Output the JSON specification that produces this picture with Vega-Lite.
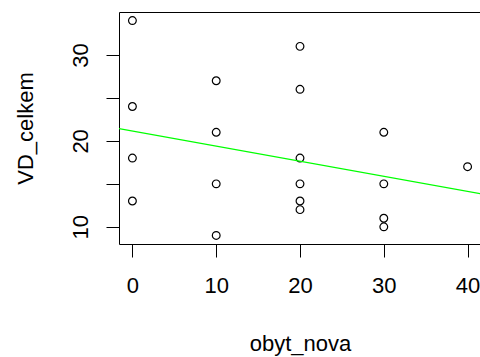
{
  "$schema": "https://vega.github.io/schema/vega-lite/v6.json",
  "autosize": {"type": "none"},
  "padding": {"left": 119, "top": 12, "right": 0, "bottom": 113},
  "width": 362,
  "height": 232,
  "background": "white",
  "config": {
    "font": "Liberation Sans",
    "view": {"stroke": "black", "strokeWidth": 1},
    "axis": {"grid": false, "domain": false, "tickColor": "black", "tickSize": 13, "tickWidth": 1,
      "labelFont": "Liberation Sans", "labelFontSize": 22, "labelColor": "black",
      "titleFont": "Liberation Sans", "titleFontSize": 22, "titleColor": "black", "titleFontWeight": "normal"}
  },
  "layer": [
    {
      "data": {"values": [
        {"obyt_nova": 0, "VD_celkem": 34}, {"obyt_nova": 0, "VD_celkem": 24}, {"obyt_nova": 0, "VD_celkem": 18}, {"obyt_nova": 0, "VD_celkem": 13},
        {"obyt_nova": 10, "VD_celkem": 27}, {"obyt_nova": 10, "VD_celkem": 21}, {"obyt_nova": 10, "VD_celkem": 15}, {"obyt_nova": 10, "VD_celkem": 9},
        {"obyt_nova": 20, "VD_celkem": 31}, {"obyt_nova": 20, "VD_celkem": 26}, {"obyt_nova": 20, "VD_celkem": 18}, {"obyt_nova": 20, "VD_celkem": 15}, {"obyt_nova": 20, "VD_celkem": 13}, {"obyt_nova": 20, "VD_celkem": 12},
        {"obyt_nova": 30, "VD_celkem": 21}, {"obyt_nova": 30, "VD_celkem": 15}, {"obyt_nova": 30, "VD_celkem": 11}, {"obyt_nova": 30, "VD_celkem": 10},
        {"obyt_nova": 40, "VD_celkem": 17}
      ]},
      "mark": {"type": "point", "shape": "circle", "filled": false, "color": "black", "size": 60, "strokeWidth": 1.2, "opacity": 1},
      "encoding": {
        "x": {"field": "obyt_nova", "type": "quantitative",
          "scale": {"domain": [-1.6, 41.6], "nice": false, "zero": false},
          "axis": {"values": [0, 10, 20, 30, 40], "title": "obyt_nova", "labelPadding": 28, "labelBaseline": "middle", "labelAlign": "center", "titleY": 99, "titleBaseline": "middle"}},
        "y": {"field": "VD_celkem", "type": "quantitative",
          "scale": {"domain": [8, 35], "nice": false, "zero": false},
          "axis": {"values": [10, 15, 20, 25, 30], "labelExpr": "datum.value % 10 == 0 ? datum.label : ''", "title": "VD_celkem",
            "labelAngle": -90, "labelAlign": "center", "labelBaseline": "middle", "labelPadding": 26,
            "titleX": -94, "titleY": 116, "titleAngle": -90, "titleAlign": "center", "titleBaseline": "middle"}}
      }
    },
    {
      "data": {"values": [
        {"obyt_nova": -1.6, "VD_celkem": 21.44},
        {"obyt_nova": 41.6, "VD_celkem": 13.85}
      ]},
      "mark": {"type": "line", "color": "#00ff00", "strokeWidth": 1.2, "clip": true},
      "encoding": {
        "x": {"field": "obyt_nova", "type": "quantitative"},
        "y": {"field": "VD_celkem", "type": "quantitative"}
      }
    }
  ]
}
